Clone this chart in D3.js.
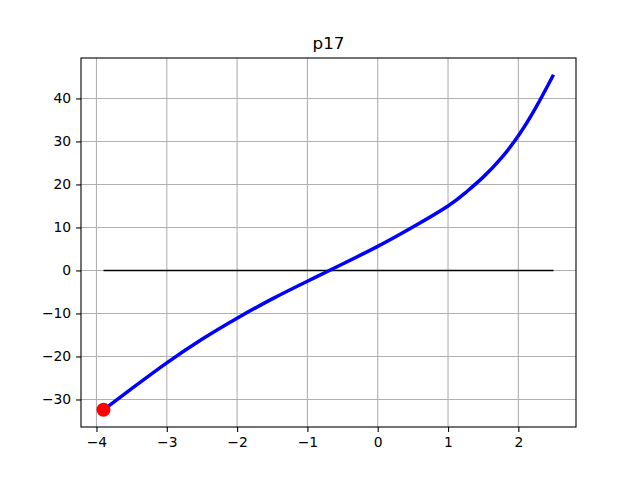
<!DOCTYPE html>
<html><head><meta charset="utf-8">
<script src="https://cdn.jsdelivr.net/npm/d3@7"></script>
<style>body{margin:0;background:#fff}svg{display:block}text{font-family:"DejaVu Sans",sans-serif}</style>
</head><body><svg id="c" width="640" height="480"></svg>
<script>
const titleText = "p17";
const xs = [-3.9, -3.5, -3.0, -2.5, -2.0, -1.5, -1.0, -0.5, 0.0, 0.5, 1.0, 1.25, 1.5, 1.75, 2.0, 2.25, 2.5];
const ys = [-32.4, -27.5, -21.5, -16.0, -11.1, -6.6, -2.5, 1.5, 5.6, 10.1, 15.0, 18.1, 21.7, 26.0, 31.3, 37.9, 45.5];
const zeroLineX = [-3.9, 2.5];
const zeroLineY = [0, 0];
const startPoint = [-3.9, -32.4];
const xTicks = [-4, -3, -2, -1, 0, 1, 2];
const yTicks = [-30, -20, -10, 0, 10, 20, 30, 40];

const svg = d3.select("#c");
const L = 81, R = 576, T = 58, B = 427;
const x = d3.scaleLinear().domain([-4.22, 2.82]).range([L, R]);
const y = d3.scaleLinear().domain([-36.4, 49.4]).range([B, T]);
const fmt = v => String(v).replace("-", "\u2212");

// grid
const g = svg.append("g");
g.selectAll(".gx").data(xTicks).join("line")
  .attr("x1", d => x(d)).attr("x2", d => x(d)).attr("y1", T).attr("y2", B)
  .attr("stroke", "#b0b0b0").attr("stroke-width", 1.1);
g.selectAll(".gy").data(yTicks).join("line")
  .attr("y1", d => y(d)).attr("y2", d => y(d)).attr("x1", L).attr("x2", R)
  .attr("stroke", "#b0b0b0").attr("stroke-width", 1.1);

// axes
const xa = svg.append("g").attr("transform", `translate(0,${B})`)
  .call(d3.axisBottom(x).tickValues(xTicks).tickFormat(fmt).tickSize(4.9).tickPadding(4.9));
const ya = svg.append("g").attr("transform", `translate(${L},0)`)
  .call(d3.axisLeft(y).tickValues(yTicks).tickFormat(fmt).tickSize(4.9).tickPadding(4.9));
[xa, ya].forEach(a => {
  a.select(".domain").remove();
  a.selectAll("line").attr("stroke", "#000").attr("stroke-width", 1.1);
  a.selectAll("text").attr("font-size", "13.9px").attr("fill", "#000").attr("font-family", "DejaVu Sans");
});

// zero line
const line = d3.line().x(d => x(d[0])).y(d => y(d[1]));
svg.append("path").datum(zeroLineX.map((v, i) => [v, zeroLineY[i]]))
  .attr("d", line).attr("stroke", "#000").attr("stroke-width", 1.5).attr("fill", "none");

// curve
svg.append("path").datum(xs.map((v, i) => [v, ys[i]]))
  .attr("d", d3.line().x(d => x(d[0])).y(d => y(d[1])).curve(d3.curveNatural))
  .attr("stroke", "#0000ff").attr("stroke-width", 3.5).attr("fill", "none");

// start point
svg.append("circle").attr("cx", x(startPoint[0])).attr("cy", y(startPoint[1]))
  .attr("r", 7).attr("fill", "#ff0000");

// frame
svg.append("rect").attr("x", L).attr("y", T).attr("width", R - L).attr("height", B - T)
  .attr("fill", "none").attr("stroke", "#000").attr("stroke-width", 1.1);

// title
svg.append("text").attr("x", (L + R) / 2).attr("y", 49).attr("text-anchor", "middle")
  .attr("font-size", "16.7px").attr("fill", "#000").text(titleText);
</script></body></html>
